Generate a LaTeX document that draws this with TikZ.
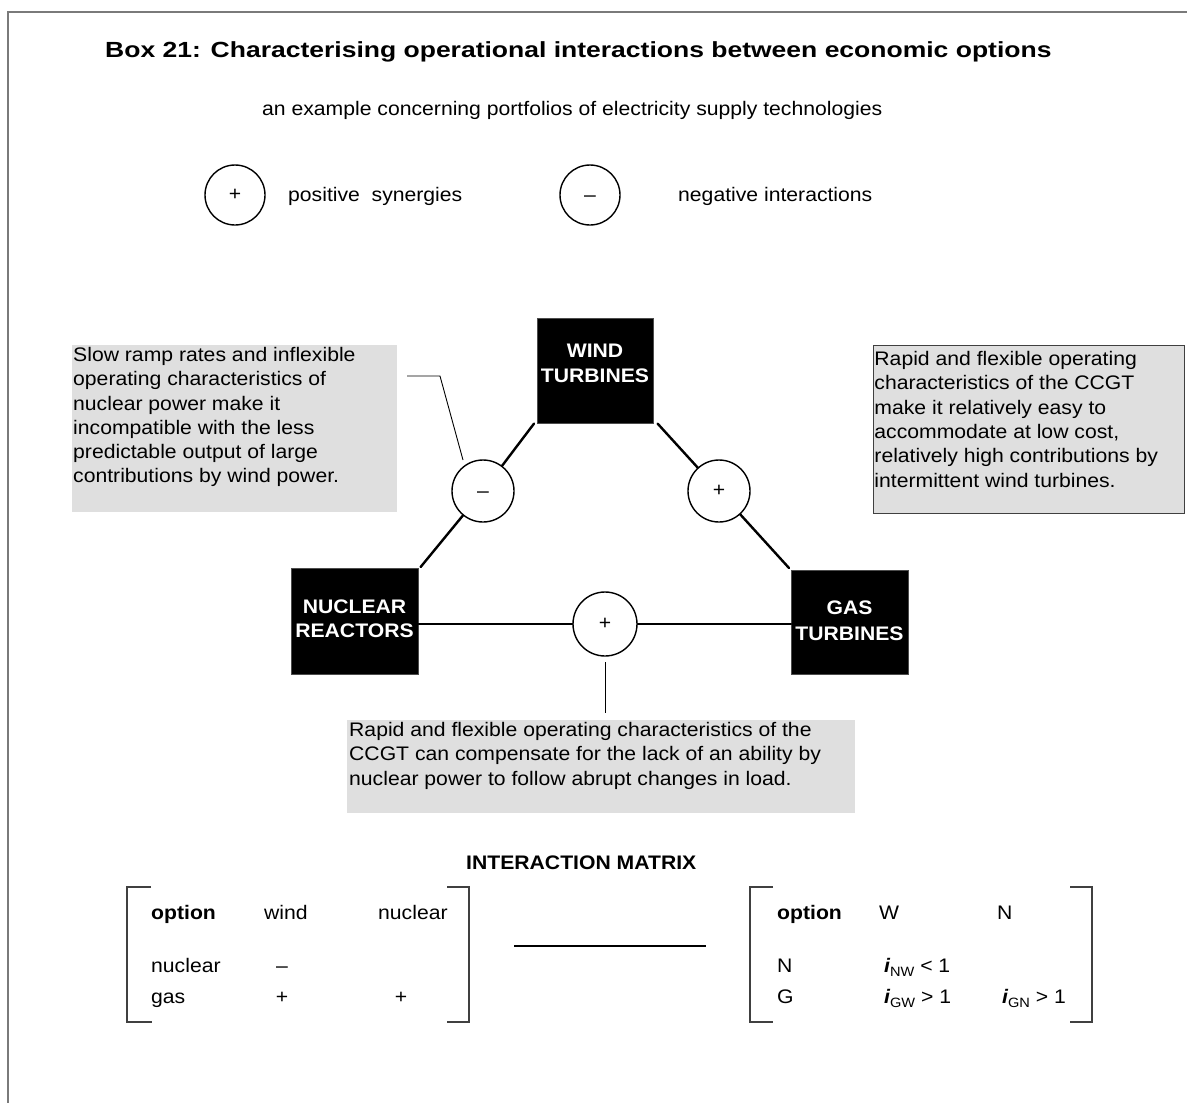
\documentclass[tikz,border=0pt]{standalone}
\usepackage{fontspec}
\setmainfont{Liberation Sans}[FakeStretch=1.08]
\newfontfamily\titlefont{Liberation Sans}[FakeStretch=1.21]
\definecolor{notegray}{HTML}{DFDFDF}
\definecolor{framegray}{HTML}{7A7A7A}
\definecolor{edgegray}{HTML}{404040}
\newcommand{\bodyfont}{\fontsize{19.6}{24.3}\selectfont}
\newcommand{\ival}[2]{{\bfseries\itshape i}\raisebox{-4pt}{\fontsize{13.5}{13.5}\selectfont #1}~#2}
\newcommand{\minussign}{\raisebox{-6pt}[0pt][0pt]{--}}
\begin{document}
\begin{tikzpicture}[x=1pt,y=-1pt,
  txt/.style={inner sep=0pt, font=\bodyfont},
  bold/.style={inner sep=0pt, font=\bodyfont\bfseries},
  techbox/.style={fill=black, draw=black!70, line width=0.6pt, inner sep=0pt, anchor=north west},
  techtxt/.style={inner sep=0pt, text=white, font=\bodyfont\bfseries, anchor=base},
  sign/.style={circle, draw=black, line width=1.4pt, fill=white, inner sep=0pt, font=\bodyfont},
  link/.style={line width=2.4pt, line cap=round},
  leader/.style={line width=0.9pt},
  note/.style={fill=notegray, inner sep=0pt, anchor=north west},
  brk/.style={draw=edgegray, line width=1.4pt},
]
\useasboundingbox (0,0) rectangle (1187,1103);

% frame of the box
\draw[framegray, line width=2pt] (8,1103) -- (8,12) -- (1187,12);

% headings
\node[inner sep=0pt, anchor=base west, font=\titlefont\fontsize{21.9}{26}\selectfont\bfseries] (title) at (105,57)
  {Box 21: Characterising operational interactions between economic options};
\node[txt, anchor=base west] (subtitle) at (262,115)
  {an example concerning portfolios of electricity supply technologies};

% legend
\node[sign, minimum size=60pt] (legplus) at (235,195) {+};
\node[txt, anchor=base west] (legplustxt) at (288,201) {positive\ \ synergies};
\node[sign, minimum size=60pt] (legminus) at (590,195) {\minussign};
\node[txt, anchor=base west] (legminustxt) at (678,201) {negative interactions};

% technologies
\node[techbox, minimum width=116pt, minimum height=105pt] (wind) at (537,318) {};
\node[techtxt] (windA) at (595,357) {WIND};
\node[techtxt] (windB) at (595,382) {TURBINES};
\node[techbox, minimum width=127pt, minimum height=106pt] (nuc) at (291,568) {};
\node[techtxt] (nucA) at (354.5,613) {NUCLEAR};
\node[techtxt] (nucB) at (354.5,637) {REACTORS};
\node[techbox, minimum width=117pt, minimum height=104pt] (gas) at (791,570) {};
\node[techtxt] (gasA) at (849.5,614) {GAS};
\node[techtxt] (gasB) at (849.5,640) {TURBINES};

% interactions
\node[sign, minimum size=62pt] (wn) at (483,491) {\minussign};
\node[sign, minimum size=62pt] (wg) at (719,491) {+};
\node[sign, minimum size=64pt] (ng) at (605,624) {+};

\draw[link] ([xshift=-3pt]wind.south west) -- (wn);
\draw[link] (wn) -- ([xshift=2pt,yshift=1pt]nuc.north east);
\draw[link] ([xshift=4pt]wind.south east) -- (wg);
\draw[link] (wg) -- ([xshift=-2pt,yshift=2pt]gas.north west);
\draw[link] (nuc.east |- ng.west) -- (ng.west);
\draw[link] (ng.east) -- (gas.west |- ng.east);

% explanatory notes
\node[note] (notewn) at (72,345) {\parbox[t][167pt][t]{325pt}{\bodyfont\raggedright\vspace*{2pt}\leftskip=1pt
  Slow ramp rates and inflexible\\
  operating characteristics of\\
  nuclear power make it\\
  incompatible with the less\\
  predictable output of large\\
  contributions by wind power.}};
\node[note, draw=edgegray, line width=0.9pt] (notewg) at (873,345) {\parbox[t][168pt][t]{311pt}{\bodyfont\raggedright\vspace*{6pt}\leftskip=1pt
  Rapid and flexible operating\\
  characteristics of the CCGT\\
  make it relatively easy to\\
  accommodate at low cost,\\
  relatively high contributions by\\
  intermittent wind turbines.}};
\node[note] (noteng) at (347,720) {\parbox[t][93pt][t]{508pt}{\bodyfont\raggedright\vspace*{2pt}\leftskip=2pt
  Rapid and flexible operating characteristics of the\\
  CCGT can compensate for the lack of an ability by\\
  nuclear power to follow abrupt changes in load.}};

% leader lines
\coordinate (l1) at (407,376);
\coordinate (l2) at (440,376);
\coordinate (l3) at (463,460);
\draw[leader] (l1) -- (l2) -- (l3);
\coordinate (b1) at (605,662);
\coordinate (b2) at (605,713);
\draw[leader] (b1) -- (b2);

% interaction matrix
\node[bold, anchor=base west] (mtitle) at (466,869) {INTERACTION MATRIX};

\draw[brk] (151,887) -- (127,887) -- (127,1022) -- (152,1022);
\draw[brk] (447,887) -- (469,887) -- (469,1022) -- (447,1022);
\node[bold, anchor=base west] (lopt) at (151,919) {option};
\node[txt, anchor=base west] (lwind) at (264,919) {wind};
\node[txt, anchor=base west] (lnuc) at (378,919) {nuclear};
\node[txt, anchor=base west] (lrn) at (151,972) {nuclear};
\node[txt, anchor=base west] (lrg) at (151,1003) {gas};
\node[txt, anchor=base] (lnw) at (282,972) {--};
\node[txt, anchor=base] (lgw) at (282,1003) {+};
\node[txt, anchor=base] (lgn) at (401,1003) {+};

\coordinate (m1) at (514,946);
\coordinate (m2) at (706,946);
\draw[line width=1.8pt] (m1) -- (m2);

\draw[brk] (773,887) -- (750,887) -- (750,1022) -- (773,1022);
\draw[brk] (1070,887) -- (1092,887) -- (1092,1022) -- (1070,1022);
\node[bold, anchor=base west] (ropt) at (777,919) {option};
\node[txt, anchor=base west] (rw) at (879,919) {W};
\node[txt, anchor=base west] (rn) at (997,919) {N};
\node[txt, anchor=base west] (rrn) at (777,972) {N};
\node[txt, anchor=base west] (rrg) at (777,1003) {G};
\node[txt, anchor=base west] (inw) at (884,972) {\ival{NW}{< 1}};
\node[txt, anchor=base west] (igw) at (884,1003) {\ival{GW}{> 1}};
\node[txt, anchor=base west] (ign) at (1002,1003) {\ival{GN}{> 1}};
\end{tikzpicture}
\end{document}
